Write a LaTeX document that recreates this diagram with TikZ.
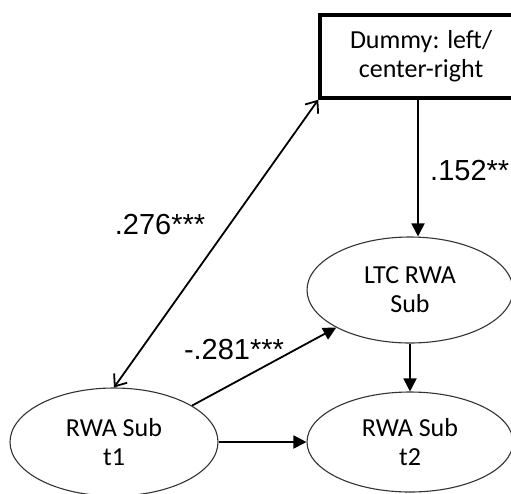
\documentclass[tikz,border=0pt]{standalone}
\usepackage{fontspec}
\setmainfont{Carlito}
\newfontfamily\labelfont{Liberation Sans}
\usetikzlibrary{shapes.geometric,arrows.meta}
\begin{document}
\begin{tikzpicture}[x=1pt,y=-1pt,
  ell/.style={ellipse, draw=black!80, line width=1.1pt, inner sep=0pt,
    font=\fontsize{26}{29}\selectfont, align=center},
  boxnode/.style={rectangle, draw=black, line width=3.5pt, inner sep=0pt,
    minimum width=202pt, minimum height=83pt, font=\fontsize{26}{29}\selectfont, align=center},
  solidarrow/.style={line width=1.8pt, -{Triangle[length=13pt,width=13pt]}},
  corrarrow/.style={line width=1.8pt, {Straight Barb[length=10pt,width=16pt]}-{Straight Barb[length=10pt,width=16pt]}},
  coef/.style={font=\labelfont\fontsize{29}{32}\selectfont, inner sep=0pt}]
\useasboundingbox (0,0) rectangle (511,493);
\clip (0,0) rectangle (511,493);
\fill[white] (0,0) rectangle (511,493);
\node[boxnode] (box) at (421,56.5) {Dummy: left/\\center-right};
\coordinate (boxout) at (418,98);
\node[ell, minimum width=206pt, minimum height=106pt] (ltc) at (410,290) {LTC RWA\\Sub};
\node[ell, minimum width=206pt, minimum height=100pt] (t2) at (410,442) {RWA Sub\\t2};
\node[ell, minimum width=208pt, minimum height=108pt] (t1) at (114,442) {RWA Sub\\t1};
\draw[solidarrow] (boxout) -- (boxout |- ltc.north);
\draw[solidarrow] (ltc.south) -- (t2.north);
\draw[solidarrow] (t1.east) -- (t2.west);
\draw[solidarrow] (t1.25) -- (ltc.207);
\draw[corrarrow] (box.south west) -- (t1.north);
\node[coef] (c1) at (160,225) {.276***};
\node[coef] (c2) at (234,350) {-.281***};
\node[coef, anchor=west] (c3) at (430,171) {.152**};
\end{tikzpicture}
\end{document}
